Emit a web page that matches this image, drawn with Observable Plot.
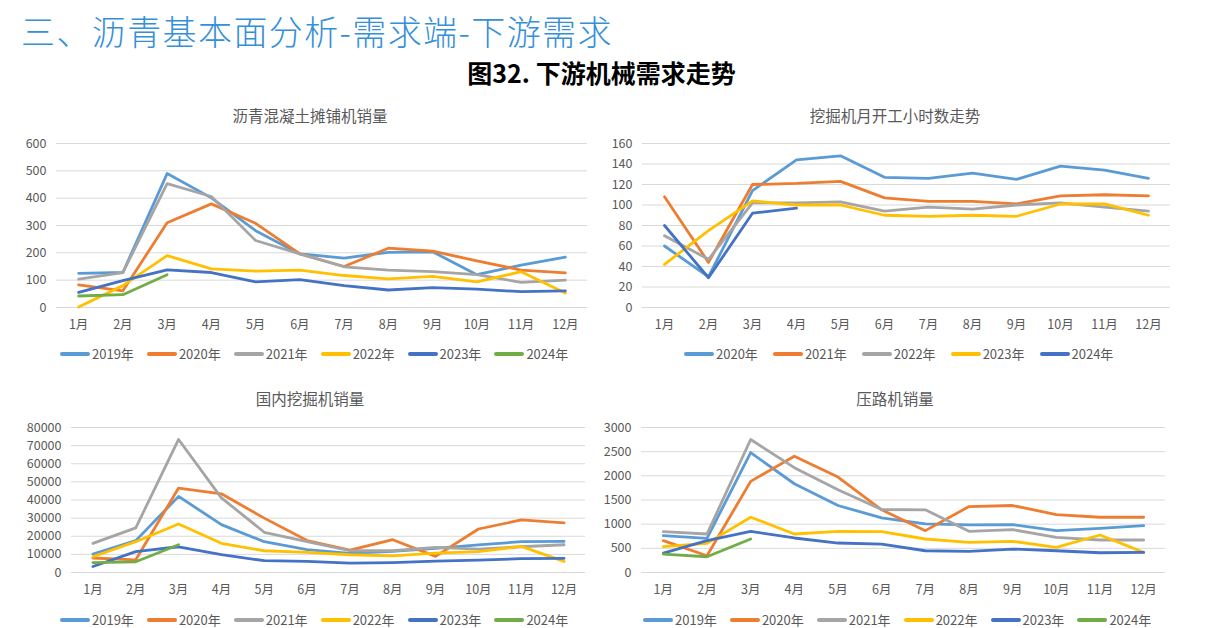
<!DOCTYPE html>
<html><head><meta charset="utf-8">
<script src="https://cdn.jsdelivr.net/npm/d3@7"></script>
<script src="https://cdn.jsdelivr.net/npm/@observablehq/plot@0.6"></script>
<style>
body{margin:0;background:#fff;width:1209px;height:628px;position:relative;overflow:hidden;font-family:"Noto Sans CJK SC","Noto Sans",sans-serif;}
.abs{position:absolute}
.main{left:21px;top:6px;font-size:34px;color:#3590d8;white-space:nowrap;letter-spacing:1.4px;font-weight:300}
.sub{left:0;width:1203px;top:54px;text-align:center;font-size:25px;font-weight:bold;color:#000}
.ptitle{font-size:15.5px;color:#595959;text-align:center;width:400px;white-space:nowrap}
.legend{display:flex;gap:13px;font-size:13px;color:#595959;white-space:nowrap;align-items:center}
.legend .it{display:flex;align-items:center}
.legend .sw{width:30px;height:4px;border-radius:2px;margin-right:2px}
</style></head><body>
<div class="abs main">三、沥青基本面分析-需求端-下游需求</div>
<div class="abs sub">图32. 下游机械需求走势</div>
<script>
// ---------- data ----------
const monthLabels = ["1月","2月","3月","4月","5月","6月","7月","8月","9月","10月","11月","12月"];
const yearsA = ["2019年","2020年","2021年","2022年","2023年","2024年"];
const yearsB = ["2020年","2021年","2022年","2023年","2024年"];
const colorsSix = ["#5b9bd5","#ed7d31","#a5a5a5","#ffc000","#4472c4","#70ad47"];
const colorsFive = ["#5b9bd5","#ed7d31","#a5a5a5","#ffc000","#4472c4"];

// 沥青混凝土摊铺机销量
const paver2019 = [125,128,490,401,281,196,181,202,204,120,155,184];
const paver2020 = [83,61,310,379,308,196,150,217,206,171,137,127];
const paver2021 = [104,128,453,406,245,196,149,137,131,120,92,100];
const paver2022 = [2,80,190,141,133,137,117,105,114,94,131,53];
const paver2023 = [55,98,138,128,94,102,80,64,73,67,58,61];
const paver2024 = [42,47,120];

// 挖掘机月开工小时数
const hours2020 = [60,30,114,144,148,127,126,131,125,138,134,126];
const hours2021 = [108,44,120,121,123,107,103.5,103.5,101,109,110,109];
const hours2022 = [70,47,102,102,103,94,98,96,100,102,98,94];
const hours2023 = [42,75,104,100,100,90,89,90,89,101,101,90];
const hours2024 = [80,29,92,97];

// 国内挖掘机销量
const exc2019 = [10200,17600,42000,26400,17000,12600,10500,11600,13300,15200,17000,17200];
const exc2020 = [8000,7000,46600,43400,30000,17600,12400,18100,8900,24000,29000,27400];
const exc2021 = [16100,24600,73400,41200,22200,17000,12000,12000,13900,12900,14200,15300];
const exc2022 = [8700,17000,26800,16100,12000,11100,9800,9200,10700,11500,14400,6100];
const exc2023 = [3300,11500,14200,9800,6500,6100,5200,5500,6300,6800,7600,7800];
const exc2024 = [5500,5900,15300];

// 压路机销量
const roller2019 = [762,707,2481,1836,1386,1130,1005,984,991,866,915,970];
const roller2020 = [658,346,1885,2405,1975,1296,866,1365,1386,1199,1143,1143];
const roller2021 = [845,797,2751,2169,1712,1303,1296,852,887,728,672,672];
const roller2022 = [534,603,1143,797,852,845,693,624,645,520,776,416];
const roller2023 = [402,658,852,714,610,589,450,437,485,450,409,416];
const roller2024 = [381,326,693];

const panelTitles = ["沥青混凝土摊铺机销量","挖掘机月开工小时数走势","国内挖掘机销量","压路机销量"];
const ticksPaver = [0,100,200,300,400,500,600];
const ticksHours = [0,20,40,60,80,100,120,140,160];
const ticksExc = [0,10000,20000,30000,40000,50000,60000,70000,80000];
const ticksRoller = [0,500,1000,1500,2000,2500,3000];

// ---------- helpers ----------
function tidy(years, series) {
  const rows = [];
  series.forEach((vals, k) => vals.forEach((v, i) => rows.push({month: i + 1, value: v, year: years[k]})));
  return rows;
}

function panel(cfg) {
  const rows = tidy(cfg.years, cfg.series);
  const chart = Plot.plot({
    width: cfg.width, height: cfg.height,
    marginLeft: cfg.ml, marginRight: cfg.mr, marginTop: cfg.mt, marginBottom: cfg.mb,
    style: {fontFamily: '"Noto Sans CJK SC","Noto Sans",sans-serif', fontSize: "12.5px", color: "#595959", background: "transparent"},
    x: {domain: [0.5, 12.5], ticks: d3.range(1, 13), tickFormat: d => monthLabels[d - 1], tickSize: 0, tickPadding: 13, label: null},
    y: {domain: [0, cfg.ticks[cfg.ticks.length - 1]], ticks: cfg.ticks, tickSize: 0, tickPadding: cfg.tp, label: null},
    color: {domain: cfg.years, range: cfg.colors},
    marks: [
      Plot.gridY(cfg.ticks, {stroke: "#d9d9d9", strokeOpacity: 1, strokeWidth: 1}),
      Plot.axisX({tickSize: 0, tickPadding: 13, ticks: d3.range(1, 13), tickFormat: d => monthLabels[d - 1], label: null, fontSize: 12.5}),
      Plot.axisY({tickSize: 0, tickPadding: cfg.tp, ticks: cfg.ticks, label: null, tickFormat: d => String(d), fontSize: 12.5}),
      Plot.lineY(rows, {x: "month", y: "value", z: "year", stroke: "year", strokeWidth: 2.8, strokeLinejoin: "round", strokeLinecap: "round"})
    ]
  });
  chart.classList.add("abs");
  chart.style.left = cfg.left + "px";
  chart.style.top = cfg.top + "px";
  document.body.appendChild(chart);

  const t = document.createElement("div");
  t.className = "abs ptitle";
  t.textContent = cfg.title;
  t.style.left = (cfg.tx - 200) + "px";
  t.style.top = (cfg.ty - 11) + "px";
  document.body.appendChild(t);

  const lg = document.createElement("div");
  lg.className = "abs legend";
  lg.style.left = cfg.lx + "px";
  lg.style.top = (cfg.ly - 9) + "px";
  if (cfg.gap) lg.style.gap = cfg.gap + "px";
  cfg.years.forEach((y, i) => {
    const it = document.createElement("div");
    it.className = "it";
    const sw = document.createElement("div");
    sw.className = "sw";
    sw.style.background = cfg.colors[i];
    const tx = document.createElement("span");
    tx.textContent = y;
    it.appendChild(sw); it.appendChild(tx);
    lg.appendChild(it);
  });
  document.body.appendChild(lg);
}

panel({title: panelTitles[0], years: yearsA, colors: colorsSix,
  series: [paver2019, paver2020, paver2021, paver2022, paver2023, paver2024], ticks: ticksPaver,
  left: 0, top: 130, width: 600, height: 207, ml: 56, mr: 13, mt: 13, mb: 30, tp: 10,
  tx: 310, ty: 115, lx: 60, ly: 353});

panel({title: panelTitles[1], years: yearsB, colors: colorsFive,
  series: [hours2020, hours2021, hours2022, hours2023, hours2024], ticks: ticksHours,
  left: 600, top: 130, width: 600, height: 207, ml: 42, mr: 30, mt: 13, mb: 30, tp: 10,
  tx: 895, ty: 115, lx: 684, ly: 353, gap: 15});

panel({title: panelTitles[2], years: yearsA, colors: colorsSix,
  series: [exc2019, exc2020, exc2021, exc2022, exc2023, exc2024], ticks: ticksExc,
  left: 0, top: 410, width: 600, height: 190, ml: 71, mr: 15, mt: 17, mb: 28, tp: 10,
  tx: 310, ty: 398, lx: 60, ly: 619});

panel({title: panelTitles[3], years: yearsA, colors: colorsSix,
  series: [roller2019, roller2020, roller2021, roller2022, roller2023, roller2024], ticks: ticksRoller,
  left: 600, top: 410, width: 600, height: 190, ml: 41, mr: 35, mt: 17, mb: 28, tp: 10,
  tx: 895, ty: 398, lx: 643, ly: 619});
</script>
</body></html>
